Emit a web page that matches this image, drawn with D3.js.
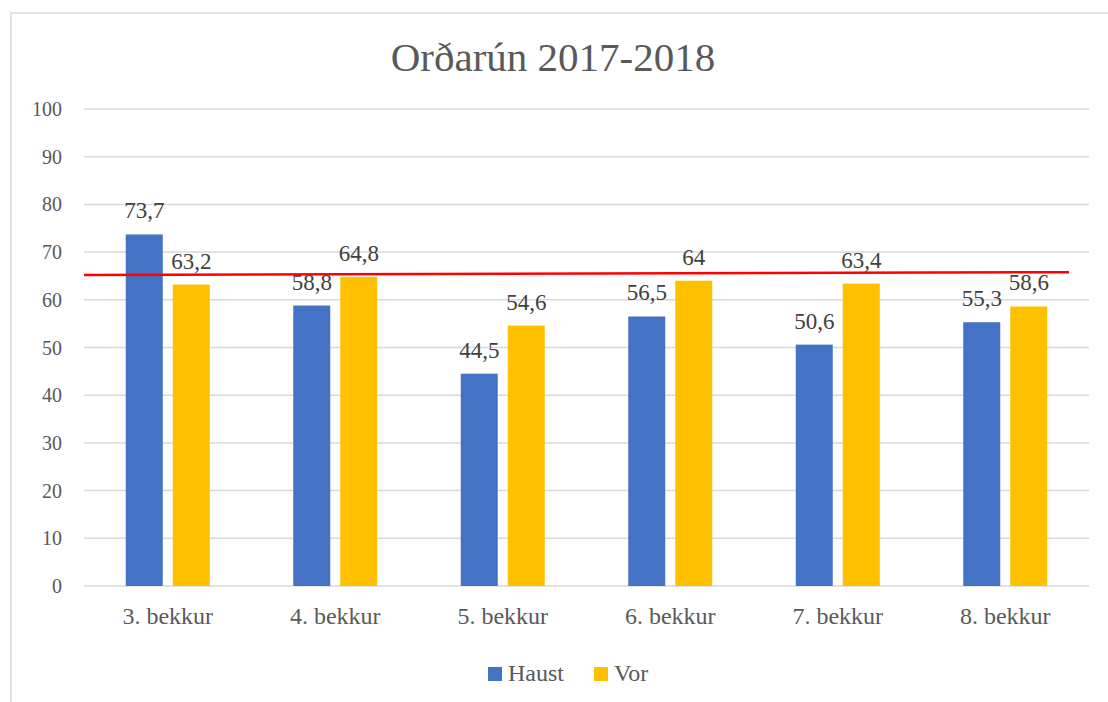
<!DOCTYPE html>
<html>
<head>
<meta charset="utf-8">
<script src="https://cdn.jsdelivr.net/npm/d3@7"></script>
<style>
  body { margin: 0; background: #fff; }
  text { font-family: "Liberation Serif", "DejaVu Serif", serif; }
  .grid line { stroke: #d9d9d9; stroke-width: 1.5; }
  .tick-label { fill: #595959; font-size: 20px; }
  .cat-label { fill: #595959; font-size: 24px; }
  .val-label { fill: #404040; font-size: 23px; }
</style>
</head>
<body>
<svg></svg>
<script>
// data
var categories = ["3. bekkur", "4. bekkur", "5. bekkur", "6. bekkur", "7. bekkur", "8. bekkur"];
var seriesNames = ["Haust", "Vor"];
var haust = [73.7, 58.8, 44.5, 56.5, 50.6, 55.3];
var vor = [63.2, 64.8, 54.6, 64, 63.4, 58.6];
var yTicks = [0, 10, 20, 30, 40, 50, 60, 70, 80, 90, 100];
var redLineValues = [65.2, 65.8]; // hand drawn reference line, start / end
var colors = ["#4472c4", "#ffc000"];

var width = 1108;
var height = 702;
var margin = { top: 109, left: 84, right: 19, bottom: 116 };

var svg = d3.select("svg")
  .attr("width", width)
  .attr("height", height);

// chart frame
svg.append("rect")
  .attr("x", 11).attr("y", 13)
  .attr("width", width + 10).attr("height", height + 10)
  .attr("fill", "none")
  .attr("stroke", "#d9d9d9")
  .attr("stroke-width", 1.5);

var x = d3.scaleBand()
  .domain(categories)
  .range([margin.left, width - margin.right]);

var y = d3.scaleLinear()
  .domain([0, 100])
  .range([height - margin.bottom, margin.top]);

var barW = 37, barGap = 10;
var xSeries = d3.scaleBand()
  .domain(seriesNames)
  .range([x.bandwidth() / 2 - barW - barGap / 2, x.bandwidth() / 2 + barW + barGap / 2])
  .paddingInner(barGap / (barW + barGap));

// title
svg.append("text")
  .attr("x", 553).attr("y", 71)
  .attr("text-anchor", "middle")
  .attr("fill", "#595959")
  .style("font-size", "41px")
  .text("Orðarún 2017-2018");

// gridlines
var grid = svg.append("g").attr("class", "grid");
grid.selectAll("line")
  .data(yTicks)
  .enter()
  .append("line")
  .attr("x1", margin.left)
  .attr("x2", width - margin.right)
  .attr("y1", function(d) { return y(d); })
  .attr("y2", function(d) { return y(d); });

svg.append("g").selectAll("text")
  .data(yTicks)
  .enter()
  .append("text")
  .attr("class", "tick-label")
  .attr("x", 62)
  .attr("y", function(d) { return y(d); })
  .attr("dy", "0.35em")
  .attr("text-anchor", "end")
  .text(function(d) { return d; });

// bars
var rows = categories.map(function(c, i) {
  return { cat: c, values: [haust[i], vor[i]] };
});

var groups = svg.append("g").selectAll("g")
  .data(rows)
  .enter()
  .append("g")
  .attr("transform", function(d) { return "translate(" + x(d.cat) + ",0)"; });

groups.selectAll("rect")
  .data(function(d) { return d.values.map(function(v, j) { return { s: seriesNames[j], v: v, j: j }; }); })
  .enter()
  .append("rect")
  .attr("x", function(d) { return xSeries(d.s); })
  .attr("width", xSeries.bandwidth())
  .attr("y", function(d) { return y(d.v); })
  .attr("height", function(d) { return y(0) - y(d.v); })
  .attr("fill", function(d) { return colors[d.j]; });

groups.selectAll("text")
  .data(function(d) { return d.values.map(function(v, j) { return { s: seriesNames[j], v: v }; }); })
  .enter()
  .append("text")
  .attr("class", "val-label")
  .attr("x", function(d) { return xSeries(d.s) + xSeries.bandwidth() / 2; })
  .attr("y", function(d) { return y(d.v) - 16; })
  .attr("text-anchor", "middle")
  .text(function(d) { return String(d.v).replace(".", ","); });

// category labels
svg.append("g").selectAll("text")
  .data(categories)
  .enter()
  .append("text")
  .attr("class", "cat-label")
  .attr("x", function(d) { return x(d) + x.bandwidth() / 2; })
  .attr("y", y(0) + 38)
  .attr("text-anchor", "middle")
  .text(function(d) { return d; });

// red reference line
var lineX = d3.scaleLinear().domain([0, 1]).range([margin.left, 1069]);
svg.append("line")
  .attr("x1", lineX(0)).attr("x2", lineX(1))
  .attr("y1", y(redLineValues[0])).attr("y2", y(redLineValues[1]))
  .attr("stroke", "#ff0000")
  .attr("stroke-width", 2.5);

// legend
var legend = svg.append("g").attr("transform", "translate(488,667)");
var legendX = [0, 106];
seriesNames.forEach(function(name, i) {
  legend.append("rect")
    .attr("x", legendX[i]).attr("y", 0)
    .attr("width", 14).attr("height", 14)
    .attr("fill", colors[i]);
  legend.append("text")
    .attr("class", "cat-label")
    .attr("x", legendX[i] + 20).attr("y", 14)
    .text(name);
});
</script>
</body>
</html>
